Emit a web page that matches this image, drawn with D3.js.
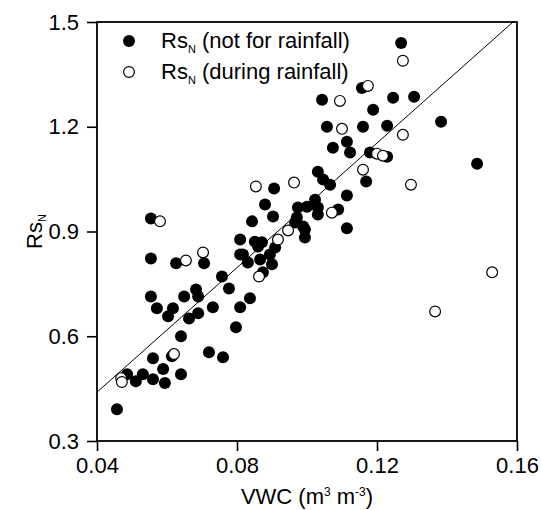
<!DOCTYPE html>
<html>
<head>
<meta charset="utf-8">
<script src="https://cdn.jsdelivr.net/npm/d3@7"></script>
<style>
  body { margin: 0; background: #fff; }
  text { font-family: "Liberation Sans", Arial, sans-serif; fill: #000; }
</style>
</head>
<body>
<div id="chart"></div>
<script>
// Rs_N (not for rainfall) : [VWC, RsN]
const dryVWC = [0.0457, 0.0486, 0.0511, 0.0531, 0.056, 0.056, 0.0589, 0.0594, 0.0614, 0.064,
  0.064, 0.072, 0.076, 0.0797, 0.0554, 0.0626, 0.0706, 0.0554, 0.0571, 0.0603,
  0.0617, 0.0649, 0.0683, 0.0689, 0.0663, 0.0689, 0.0731, 0.0757, 0.0777, 0.0809,
  0.0837, 0.0554, 0.0843, 0.088, 0.0903, 0.0906, 0.0809, 0.0817, 0.0831, 0.0851,
  0.0871, 0.0866, 0.0894, 0.09, 0.0909, 0.0874, 0.0966, 0.0994, 0.0989, 0.0971,
  0.0974, 0.1, 0.1023, 0.1031, 0.1031, 0.0994, 0.1089, 0.1114, 0.1114, 0.1031,
  0.1046, 0.1066, 0.1074, 0.1114, 0.1123, 0.118, 0.1229, 0.1169, 0.1269, 0.1157,
  0.1043, 0.1246, 0.1306, 0.1189, 0.1383, 0.1057, 0.116, 0.1229, 0.1486, 0.086,
  0.0809];
const dryRsN = [0.391, 0.491, 0.471, 0.491, 0.477, 0.537, 0.506, 0.466, 0.543, 0.491,
  0.6, 0.554, 0.54, 0.626, 0.823, 0.809, 0.809, 0.714, 0.68, 0.657,
  0.68, 0.714, 0.734, 0.714, 0.651, 0.666, 0.683, 0.771, 0.737, 0.683,
  0.709, 0.937, 0.929, 0.977, 0.943, 1.023, 0.877, 0.834, 0.811, 0.871,
  0.869, 0.82, 0.834, 0.806, 0.854, 0.783, 0.926, 0.883, 0.914, 0.94,
  0.969, 0.971, 0.991, 0.969, 0.949, 0.906, 0.963, 0.909, 1.003, 1.071,
  1.049, 1.034, 1.14, 1.157, 1.126, 1.126, 1.114, 1.043, 1.44, 1.311,
  1.277, 1.283, 1.286, 1.249, 1.214, 1.2, 1.2, 1.203, 1.094, 0.857,
  0.834];

// Rs_N (during rainfall)
const rainVWC = [0.0469, 0.0471, 0.062, 0.0654, 0.0703, 0.058, 0.0854, 0.0963, 0.0917, 0.0946,
  0.0863, 0.1071, 0.116, 0.12, 0.1217, 0.11, 0.1094, 0.1174, 0.1274, 0.1274,
  0.1297, 0.1366, 0.1529];
const rainRsN = [0.48, 0.469, 0.549, 0.817, 0.84, 0.929, 1.029, 1.04, 0.877, 0.903,
  0.771, 0.954, 1.077, 1.123, 1.117, 1.194, 1.274, 1.317, 1.389, 1.177,
  1.034, 0.671, 0.783];

// fitted line RsN = a + b * VWC
const fitIntercept = 0.083;
const fitSlope = 8.92;

const xTicks = [0.04, 0.08, 0.12, 0.16];
const yTicks = [0.3, 0.6, 0.9, 1.2, 1.5];

const W = 541, H = 510;
const margin = { top: 22, right: 24, bottom: 69, left: 97 };
const width = W - margin.left - margin.right;
const height = H - margin.top - margin.bottom;

const svg = d3.select("#chart").append("svg")
  .attr("width", W)
  .attr("height", H);

const g = svg.append("g")
  .attr("transform", `translate(${margin.left},${margin.top})`);

const x = d3.scaleLinear().domain([0.04, 0.16]).range([0, width]);
const y = d3.scaleLinear().domain([0.3, 1.5]).range([height, 0]);

svg.append("defs").append("clipPath").attr("id", "plot-clip")
  .append("rect").attr("width", width).attr("height", height);

// axes
const xAxis = g.append("g")
  .attr("transform", `translate(0,${height})`)
  .call(d3.axisBottom(x).tickValues(xTicks).tickFormat(d3.format(".2f")).tickSize(10).tickSizeOuter(0).tickPadding(6));
const yAxis = g.append("g")
  .call(d3.axisLeft(y).tickValues(yTicks).tickFormat(d3.format(".1f")).tickSize(10).tickSizeOuter(0).tickPadding(8));

[xAxis, yAxis].forEach(ax => {
  ax.select(".domain").remove();
  ax.selectAll("line").attr("stroke", "#000").attr("stroke-width", 1.6);
  ax.selectAll("text").style("font-size", "22px").style("font-family", "Liberation Sans, Arial, sans-serif");
});

// frame
g.append("rect")
  .attr("width", width)
  .attr("height", height)
  .attr("fill", "none")
  .attr("stroke", "#000")
  .attr("stroke-width", 1.8);

// regression line
const plot = g.append("g").attr("clip-path", "url(#plot-clip)");
const fitLine = d3.line().x(d => x(d)).y(d => y(fitIntercept + fitSlope * d));
plot.append("path")
  .datum(x.domain())
  .attr("fill", "none")
  .attr("stroke", "#000")
  .attr("stroke-width", 1)
  .attr("d", fitLine);

// points
const R = 6;
plot.selectAll("circle.dry")
  .data(d3.zip(dryVWC, dryRsN))
  .enter().append("circle")
  .attr("class", "dry")
  .attr("cx", d => x(d[0]))
  .attr("cy", d => y(d[1]))
  .attr("r", R)
  .attr("fill", "#000");

plot.selectAll("circle.rain")
  .data(d3.zip(rainVWC, rainRsN))
  .enter().append("circle")
  .attr("class", "rain")
  .attr("cx", d => x(d[0]))
  .attr("cy", d => y(d[1]))
  .attr("r", R - 0.6)
  .attr("fill", "#fff")
  .attr("stroke", "#000")
  .attr("stroke-width", 1.2);

// legend
const legendItems = [
  { label: " (not for rainfall)", filled: true },
  { label: " (during rainfall)", filled: false }
];
const legend = g.selectAll("g.legend")
  .data(legendItems)
  .enter().append("g")
  .attr("class", "legend")
  .attr("transform", (d, i) => `translate(32,${19 + i * 31})`);

legend.append("circle")
  .attr("r", d => d.filled ? R : R - 0.6)
  .attr("fill", d => d.filled ? "#000" : "#fff")
  .attr("stroke", "#000")
  .attr("stroke-width", d => d.filled ? 0 : 1.2);

const lt = legend.append("text")
  .attr("x", 32)
  .attr("y", 7)
  .style("font-size", "22px");
lt.append("tspan").text("Rs");
lt.append("tspan").attr("dy", 4.5).style("font-size", "11px").text("N");
lt.append("tspan").attr("dy", -4.5).text(d => d.label);

// x title
const xt = svg.append("text")
  .attr("x", margin.left + width / 2)
  .attr("y", 504)
  .attr("text-anchor", "middle")
  .style("font-size", "22px");
xt.append("tspan").text("VWC (m");
xt.append("tspan").attr("dy", -8).style("font-size", "12px").text("3");
xt.append("tspan").attr("dy", 8).text(" m");
xt.append("tspan").attr("dy", -8).style("font-size", "12px").text("-3");
xt.append("tspan").attr("dy", 8).text(")");

// y title
const yt = svg.append("text")
  .attr("transform", `translate(42,${margin.top + height / 2}) rotate(-90)`)
  .attr("text-anchor", "middle")
  .style("font-size", "22px");
yt.append("tspan").text("Rs");
yt.append("tspan").attr("dy", 4).style("font-size", "11px").text("N");
</script>
</body>
</html>
